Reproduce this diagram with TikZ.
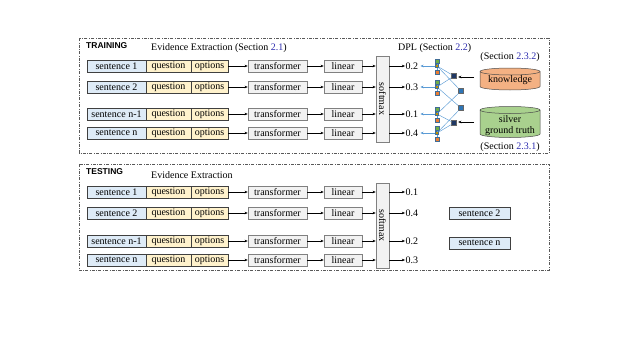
\documentclass[tikz,border=0pt]{standalone}
\usepackage{fontspec}
\setmainfont{Liberation Serif}
\setsansfont{Liberation Sans}
\usetikzlibrary{arrows.meta,shapes.geometric,shadows}
\definecolor{secblue}{RGB}{45,45,175}
\definecolor{sfill}{RGB}{222,235,247}
\definecolor{yfill}{RGB}{255,242,204}
\definecolor{gfill}{RGB}{242,242,242}
\definecolor{knfill}{RGB}{244,177,131}
\definecolor{sgfill}{RGB}{169,209,142}
\definecolor{lblue}{RGB}{91,155,213}
\definecolor{vgreen}{RGB}{112,173,71}
\definecolor{vorange}{RGB}{237,125,49}
\definecolor{volive}{RGB}{191,144,0}
\definecolor{fnavy}{RGB}{31,56,100}
\definecolor{fblue}{RGB}{46,117,182}
\begin{document}
\begin{tikzpicture}[x=1pt,y=-1pt,font=\fontsize{10}{12}\selectfont,
  frame/.style={draw=black!65,line width=0.5pt,dash pattern=on 3pt off 1.5pt on 0.6pt off 1.5pt},
  cell/.style={draw=black!75,line width=0.5pt,minimum height=12pt,inner sep=0pt,anchor=center},
  sbox/.style={cell,fill=sfill},
  ybox/.style={cell,fill=yfill},
  gbox/.style={draw=black!50,fill=gfill,line width=0.5pt,minimum height=12pt,inner sep=0pt,
    drop shadow={shadow xshift=0.8pt,shadow yshift=-0.8pt,fill=black!45,opacity=1}},
  arr/.style={-{Stealth[length=3.2pt,width=2.6pt]},line width=0.5pt,black},
  barr/.style={-{Stealth[length=3.2pt,width=2.6pt]},line width=0.45pt,lblue},
  bl/.style={line width=0.45pt,lblue},
  val/.style={anchor=west,inner sep=0.5pt},
  vsq/.style={draw=lblue!70!black,line width=0.3pt,minimum size=4pt,inner sep=0pt},
  fsq/.style={draw=black!60,line width=0.3pt,minimum size=5pt,inner sep=0pt},
  cylbody/.style={draw=black!70,line width=0.5pt},
  lab/.style={inner sep=0pt},
  hdr/.style={anchor=west,inner sep=0pt,font=\sffamily\bfseries\fontsize{8.5}{10}\selectfont}
]
\useasboundingbox (0,0) rectangle (627,340);

% frames
\draw[frame] (79,38) rectangle (549,153);
\draw[frame] (79,164) rectangle (549,270);

% headers
\node[hdr] (trl) at (86,46) {TRAINING};
\node[lab,anchor=west] (ee1) at (151,48) {Evidence Extraction (Section \textcolor{secblue}{2.1})};
\node[lab,anchor=west] (dpl) at (398,48) {DPL (Section \textcolor{secblue}{2.2})};
\node[hdr] (tel) at (86,172) {TESTING};
\node[lab,anchor=west] (ee2) at (151,175) {Evidence Extraction};

% softmax blocks
\node[gbox,minimum width=13pt,minimum height=86pt] (sm) at (382.5,99) {\rotatebox{-90}{softmax}};
\node[gbox,minimum width=13pt,minimum height=85pt] (SM) at (382.5,225.5) {\rotatebox{-90}{softmax}};

% training rows
\foreach \i/\y/\lab/\v in {1/66/sentence 1/0.2,2/87/sentence 2/0.3,3/114/sentence n-1/0.1,4/133/sentence n/0.4}{
  \node[sbox,minimum width=59pt] (s\i) at (116.5,\y) {\lab};
  \node[ybox,minimum width=45pt] (q\i) at (168.5,\y) {question};
  \node[ybox,minimum width=37pt] (o\i) at (209.5,\y) {options};
  \node[gbox,minimum width=59pt] (t\i) at (277.5,\y) {transformer};
  \node[gbox,minimum width=38pt] (l\i) at (343,\y) {linear};
  \node[val] (v\i) at (405,\y) {\v};
  \draw[arr] (o\i) -- (t\i);
  \draw[arr] (t\i) -- (l\i);
  \draw[arr] (l\i) -- (l\i -| sm.west);
  \draw[arr] (sm.east |- v\i) -- (v\i.west);
  % DPL variable columns
  \node[vsq,fill=vgreen] (g\i) at (437,\y-4.5) {};
  \node[vsq,fill=vorange] (r\i) at (437,\y+6) {};
  \node[vsq,fill=volive,minimum size=3pt] (m\i) at (437,\y) {};
  \draw[bl] (g\i) -- (m\i);
  \draw[bl] (m\i) -- (r\i);
  \draw[barr] (m\i) -- ([xshift=1.5pt]v\i.east);
}

% factor nodes
\node[fsq,fill=fnavy] (d1) at (454,76) {};
\node[fsq,fill=fblue] (b1) at (461,91) {};
\node[fsq,fill=fblue] (b2) at (461,108) {};
\node[fsq,fill=fnavy] (d2) at (454,123) {};
\foreach \a/\b in {m1/d1,m2/d1,m1/b1,m3/b1,m2/b2,m4/b2,m3/d2,m4/d2}{
  \draw[bl] (\a) -- (\b);
}

% knowledge cylinder
\path[cylbody,fill=knfill] (480,71.5) -- (480,86.5) arc[start angle=180,end angle=0,x radius=30,y radius=3.5]
  -- (540,71.5) arc[start angle=0,end angle=-180,x radius=30,y radius=3.5] -- cycle;
\draw[cylbody] (480,71.5) arc[start angle=180,end angle=0,x radius=30,y radius=3.5];
\node[lab] (kn) at (510,80.5) {knowledge};
% silver ground truth cylinder
\path[cylbody,fill=sgfill] (480,110) -- (480,134) arc[start angle=180,end angle=0,x radius=30,y radius=3.5]
  -- (540,110) arc[start angle=0,end angle=-180,x radius=30,y radius=3.5] -- cycle;
\draw[cylbody] (480,110) arc[start angle=180,end angle=0,x radius=30,y radius=3.5];
\node[lab,align=center] (sg) at (510,125.5) {silver\\[-0.5pt]ground truth};

\node[lab] (s232) at (510,57) {(Section \textcolor{secblue}{2.3.2})};
\node[lab] (s231) at (510,147) {(Section \textcolor{secblue}{2.3.1})};
\coordinate (ka) at (474,77);
\coordinate (sa) at (474,122);
\draw[arr,shorten >=1.5pt] (ka) -- (d1.east |- ka);
\draw[arr,shorten >=1.5pt] (sa) -- (d2.east |- sa);

% testing rows
\foreach \i/\y/\lab/\v in {1/192/sentence 1/0.1,2/213/sentence 2/0.4,3/241/sentence n-1/0.2,4/260/sentence n/0.3}{
  \node[sbox,minimum width=59pt] (S\i) at (116.5,\y) {\lab};
  \node[ybox,minimum width=45pt] (Q\i) at (168.5,\y) {question};
  \node[ybox,minimum width=37pt] (O\i) at (209.5,\y) {options};
  \node[gbox,minimum width=59pt] (T\i) at (277.5,\y) {transformer};
  \node[gbox,minimum width=38pt] (L\i) at (343,\y) {linear};
  \node[val] (V\i) at (405,\y) {\v};
  \draw[arr] (O\i) -- (T\i);
  \draw[arr] (T\i) -- (L\i);
  \draw[arr] (L\i) -- (L\i -| SM.west);
  \draw[arr] (SM.east |- V\i) -- (V\i.west);
}

% results
\node[sbox,minimum width=61pt] (rs2) at (479.5,213) {sentence 2};
\node[sbox,minimum width=61pt] (rsn) at (479.5,243) {sentence n};
\end{tikzpicture}
\end{document}
